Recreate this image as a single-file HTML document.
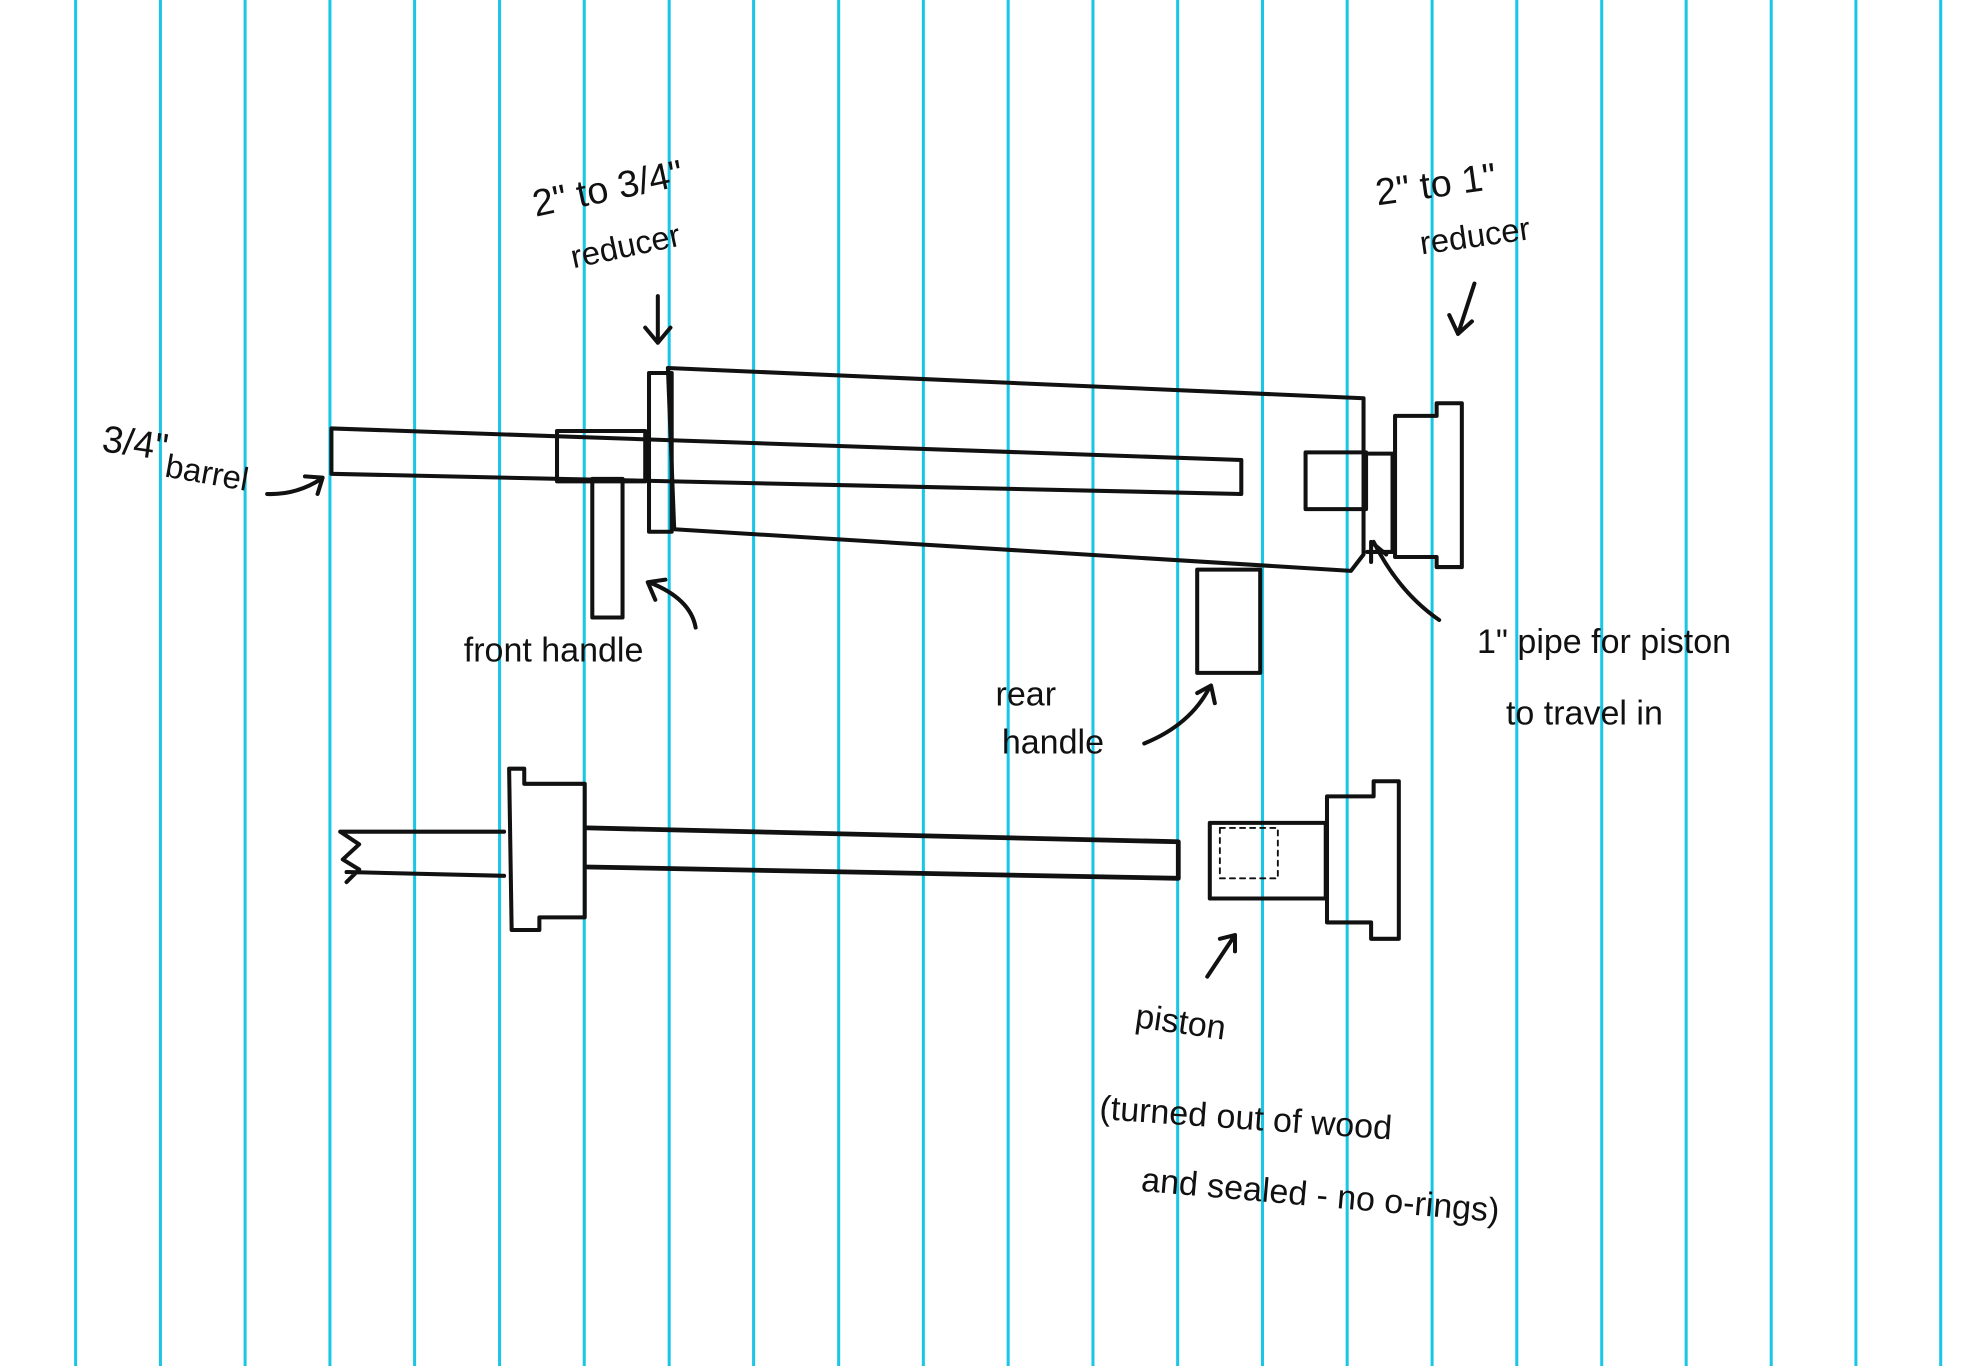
<!DOCTYPE html>
<html><head><meta charset="utf-8"><style>
html,body{margin:0;padding:0;background:#fff;}
svg{display:block;}
text{font-family:"Liberation Sans",sans-serif;fill:#111;}
</style></head><body>
<svg width="1976" height="1366" viewBox="0 0 1568 1084" preserveAspectRatio="none" xmlns="http://www.w3.org/2000/svg">
<rect width="1568" height="1084" fill="#fff"/>
<g stroke="#19c6e6" stroke-width="2.4">
<line x1="60" y1="0" x2="60" y2="1085"/><line x1="127.3" y1="0" x2="127.3" y2="1085"/><line x1="194.5" y1="0" x2="194.5" y2="1085"/><line x1="261.8" y1="0" x2="261.8" y2="1085"/><line x1="329" y1="0" x2="329" y2="1085"/><line x1="396.4" y1="0" x2="396.4" y2="1085"/><line x1="463.6" y1="0" x2="463.6" y2="1085"/><line x1="531" y1="0" x2="531" y2="1085"/><line x1="598" y1="0" x2="598" y2="1085"/><line x1="665.5" y1="0" x2="665.5" y2="1085"/><line x1="732.7" y1="0" x2="732.7" y2="1085"/><line x1="800" y1="0" x2="800" y2="1085"/><line x1="867.3" y1="0" x2="867.3" y2="1085"/><line x1="934.5" y1="0" x2="934.5" y2="1085"/><line x1="1001.8" y1="0" x2="1001.8" y2="1085"/><line x1="1069" y1="0" x2="1069" y2="1085"/><line x1="1136.4" y1="0" x2="1136.4" y2="1085"/><line x1="1203.6" y1="0" x2="1203.6" y2="1085"/><line x1="1271" y1="0" x2="1271" y2="1085"/><line x1="1338" y1="0" x2="1338" y2="1085"/><line x1="1405.5" y1="0" x2="1405.5" y2="1085"/><line x1="1472.7" y1="0" x2="1472.7" y2="1085"/><line x1="1540" y1="0" x2="1540" y2="1085"/>
</g>
<g stroke="#111" stroke-width="3.2" fill="none" stroke-linejoin="round" stroke-linecap="round">
<path d="M530 292 L1082 316 L1082 440 L1072 453 L535 420 Z"/>
<rect x="515" y="296" width="18" height="126"/>
<path d="M263 340 L985 365 L985 392 L263 376 Z"/>
<rect x="442" y="342" width="70" height="40"/>
<rect x="470" y="380" width="24" height="110"/>
<rect x="950" y="452" width="50" height="82"/>
<rect x="1036" y="359" width="48" height="45"/>
<path d="M1085 360 L1105 360 L1105 438 L1085 438"/>
<path d="M1107 330 L1140 330 L1140 320 L1160 320 L1160 450 L1140 450 L1140 442 L1107 442 Z"/>
<path d="M522 235 L522 272 M512 260 L522 272 L532 260"/>
<path d="M1170 225 L1157 265 M1150 250 L1157 265 L1168 255"/>
<path d="M212 392 Q235 393 255 380 M242 378 L256 379 L252 392"/>
<path d="M552 498 Q548 475 515 462 M520 476 L514 462 L528 460"/>
<path d="M908 590 Q945 575 960 545 M950 550 L961 544 L964 558"/>
<path d="M1142 492 Q1110 470 1090 430 M1088 446 L1088 430 L1100 440"/>
<path d="M958 775 L980 742 M968 745 L980 742 L980 755"/>
<path d="M270 660 L400 660 M275 692 L400 695 M270 660 L285 670 L272 682 L285 690 L275 700"/>
<path d="M404 610 L416 610 L416 622 L464 622 L464 728 L428 728 L428 738 L406 738 Z"/>
<path d="M466 657 L935 668 L935 697 L466 688" stroke-width="3.8"/>
<rect x="960" y="653" width="92" height="60"/>
<rect x="968" y="657" width="46" height="40" stroke-dasharray="4 4" stroke-width="1.5"/>
<path d="M1053 632 L1090 632 L1090 620 L1110 620 L1110 745 L1088 745 L1088 732 L1053 732 Z"/>
</g>
<g font-size="30">
<text x="80" y="358" transform="rotate(8 80 358)">3/4"</text>
<text x="130" y="378" transform="rotate(10 130 378)" font-size="26">barrel</text>
<text x="425" y="172" transform="rotate(-12 425 172)">2" to 3/4"</text>
<text x="455" y="213" transform="rotate(-12 455 213)" font-size="26">reducer</text>
<text x="1093" y="163" transform="rotate(-8 1093 163)">2" to 1"</text>
<text x="1128" y="202" transform="rotate(-8 1128 202)" font-size="26">reducer</text>
<text x="368" y="525" font-size="27">front handle</text>
<text x="790" y="560" font-size="27">rear</text>
<text x="795" y="598" font-size="27">handle</text>
<text x="1172" y="518" font-size="27">1" pipe for piston</text>
<text x="1195" y="575" font-size="27">to travel in</text>
<text x="900" y="815" font-size="27" transform="rotate(8 900 815)">piston</text>
<text x="872" y="888" font-size="27" transform="rotate(4 872 888)">(turned out of wood</text>
<text x="905" y="945" font-size="27" transform="rotate(5 905 945)">and sealed - no o-rings)</text>
</g>
</svg>
</body></html>
